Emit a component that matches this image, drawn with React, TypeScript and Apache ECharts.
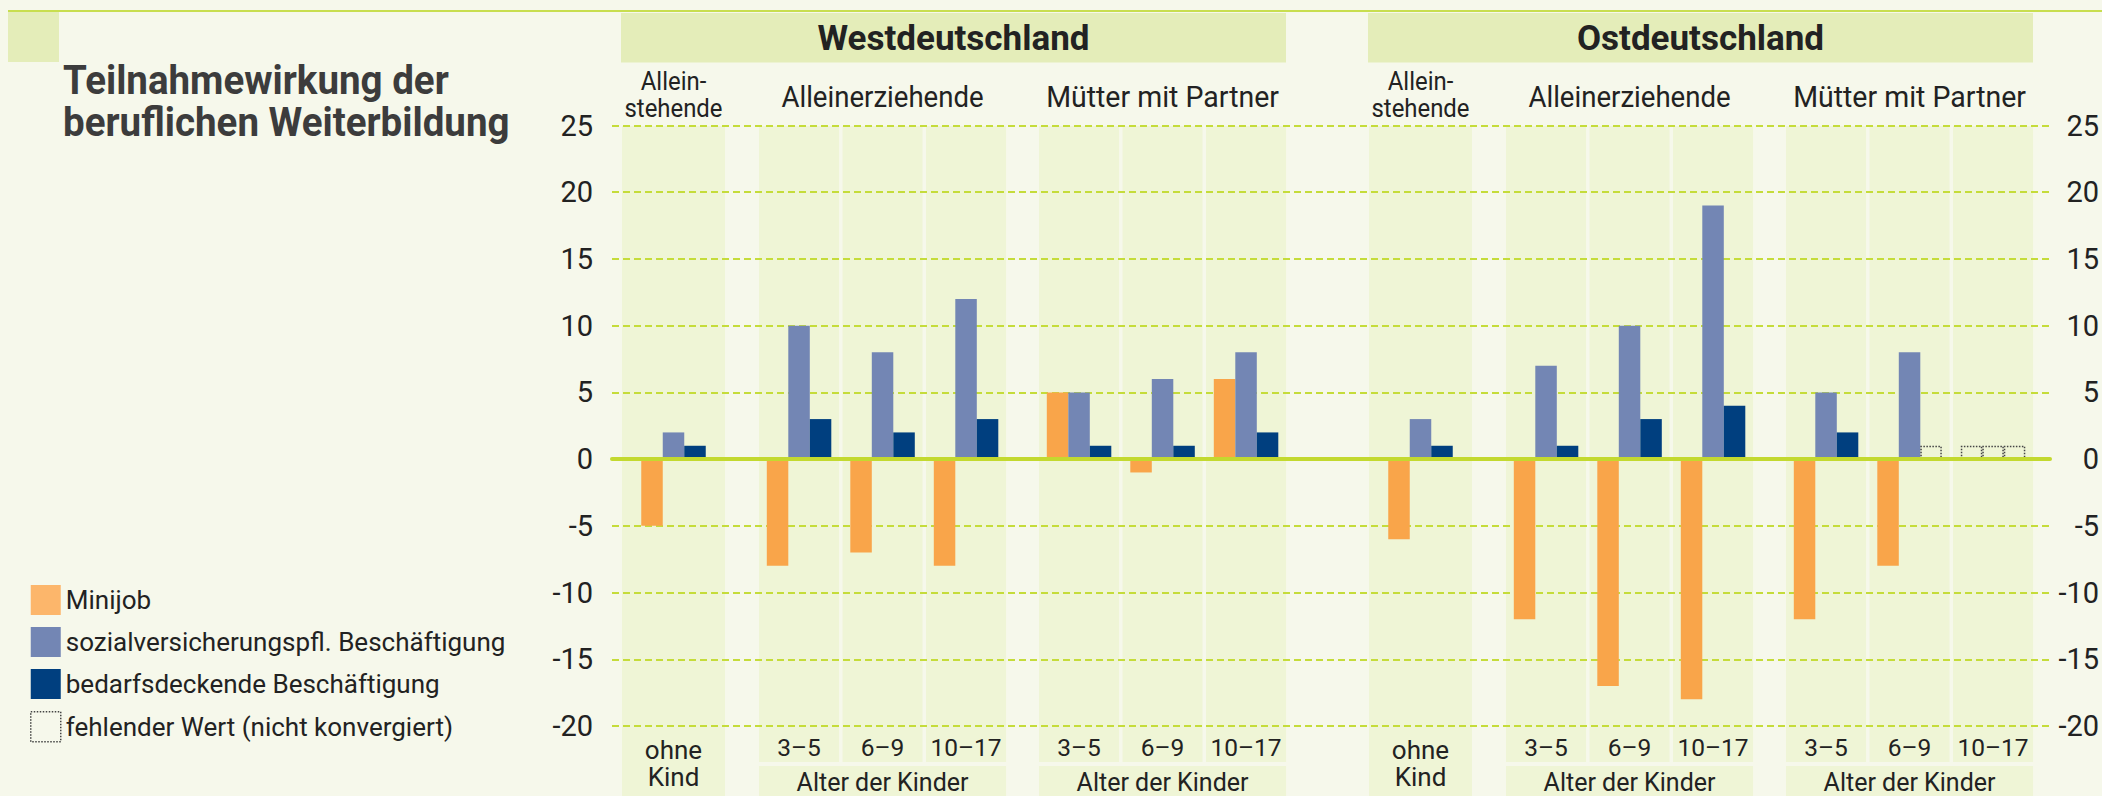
import React, { useEffect, useRef } from 'react';
import * as echarts from 'echarts';

// ---------- data ----------
const regions = ['Westdeutschland', 'Ostdeutschland'];
const householdGroups = ['Allein-\nstehende', 'Alleinerziehende', 'Mütter mit Partner'];
const categories = ['ohne\nKind', '3–5', '6–9', '10–17', '3–5', '6–9', '10–17'];
const ageAxisName = 'Alter der Kinder';
const seriesNames = ['Minijob', 'sozialversicherungspfl. Beschäftigung', 'bedarfsdeckende Beschäftigung'];
const missingName = 'fehlender Wert (nicht konvergiert)';
const yTickLabels = { min: -20, max: 25, interval: 5 };

const westMinijob = [-5, -8, -7, -8, 5, -1, 6];
const westSozial = [2, 10, 8, 12, 5, 6, 8];
const westBedarf = [1, 3, 2, 3, 1, 1, 2];
const ostMinijob = [-6, -12, -17, -18, -12, -8, null];
const ostSozial = [3, 7, 10, 19, 5, 8, null];
const ostBedarf = [1, 1, 3, 4, 2, null, null];
const missingPlaceholder = 1; // height of the dotted "missing" box

const regionData = [
  [westMinijob, westSozial, westBedarf],
  [ostMinijob, ostSozial, ostBedarf],
];
const panelRanges = [[0, 1], [1, 4], [4, 7]];

// ---------- layout / style ----------
const FONT = 'Roboto, "Liberation Sans", sans-serif';
const TEXT = '#222222';
const BG = '#f6f8eb';
const BAND = '#eff5d6';
const HEAD = '#e4edb9';
const COLORS = ['#f9a54a', '#7386b4', '#003f7f'];
const LEGEND_COLORS = ['#fcb66b', '#7386b4', '#003f7f'];
const PLOT_TOP = 125.5;
const PLOT_H = 600.5;
const MAIN_LEFT = 612;
const MAIN_RIGHT = 2050;
const REGION_OFFSET = [0, 747];
const PANEL_LEFT = [620.25, 757.3, 1037.3];
const PANEL_W = [106.5, 250.5, 250.5];
const INSET = 1.75;

const missingStyle = {
  color: 'rgba(0,0,0,0)',
  borderColor: '#444',
  borderWidth: 1.5,
  borderType: 'dotted',
};

function buildOption() {
  const grid: any[] = [
    { left: MAIN_LEFT, top: PLOT_TOP, width: MAIN_RIGHT - MAIN_LEFT, height: PLOT_H, outerBoundsMode: 'none' },
  ];
  const xAxis: any[] = [
    {
      gridIndex: 0,
      type: 'category',
      data: [''],
      z: 10,
      axisLine: { show: true, onZero: true, lineStyle: { color: '#c3d92f', width: 4 } },
      axisTick: { show: false },
      axisLabel: { show: false },
      splitLine: { show: false },
    },
  ];
  const yLabel = { fontSize: 29, color: TEXT, fontFamily: FONT };
  const yAxis: any[] = [
    {
      gridIndex: 0,
      type: 'value',
      position: 'left',
      ...yTickLabels,
      axisLine: { show: false },
      axisTick: { show: false },
      axisLabel: { ...yLabel, margin: 19 },
      splitLine: { show: true, lineStyle: { color: '#c5dc3a', width: 2, type: [7, 4] } },
    },
    {
      gridIndex: 0,
      type: 'value',
      position: 'right',
      ...yTickLabels,
      axisLine: { show: false },
      axisTick: { show: false },
      axisLabel: { ...yLabel, margin: 49, align: 'right' },
      splitLine: { show: false },
    },
  ];
  const series: any[] = [];
  const graphic: any[] = [];

  // decorations
  graphic.push({ type: 'line', z: 1, shape: { x1: 8, y1: 11, x2: 2102, y2: 11 }, style: { stroke: '#c8de4f', lineWidth: 2 } });
  graphic.push({ type: 'rect', z: 1, shape: { x: 8, y: 12, width: 51, height: 50 }, style: { fill: HEAD } });
  graphic.push({
    type: 'text', z: 5, x: 63, y: 101, scaleX: 0.94,
    style: {
      text: 'Teilnahmewirkung der\nberuflichen Weiterbildung',
      fill: '#3c3c3c', fontSize: 41, fontWeight: 'bold', fontFamily: FONT,
      lineHeight: 42, align: 'left', verticalAlign: 'middle',
    },
  });

  regions.forEach((region, r) => {
    const off = REGION_OFFSET[r];
    graphic.push({ type: 'rect', z: 1, shape: { x: 621 + off, y: 13, width: 665, height: 49.5 }, style: { fill: HEAD } });
    graphic.push({
      type: 'text', z: 5, x: 953.5 + off, y: 38,
      style: { text: region, fill: TEXT, fontSize: 35, fontWeight: 'bold', fontFamily: FONT, align: 'center', verticalAlign: 'middle' },
    });

    panelRanges.forEach(([a, b], p) => {
      const left = PANEL_LEFT[p] + off;
      const width = PANEL_W[p];
      const n = b - a;
      const cw = width / n;
      // group label
      graphic.push({
        type: 'text', z: 5, x: left + width / 2, y: p === 0 ? 95 : 96.5, scaleX: p === 2 ? 0.95 : 0.92,
        style: {
          text: householdGroups[p], fill: TEXT, fontFamily: FONT,
          fontSize: p === 0 ? 26 : 30, lineHeight: 27, align: 'center', verticalAlign: 'middle',
        },
      });
      // background bands
      for (let i = 0; i < n; i++) {
        graphic.push({
          type: 'rect', z: -1,
          shape: { x: left + i * cw + INSET, y: 126, width: cw - 2 * INSET, height: (p === 0 ? 796 : 762) - 126 },
          style: { fill: BAND },
        });
      }
      if (p > 0) {
        graphic.push({
          type: 'rect', z: -1,
          shape: { x: left + INSET, y: 766, width: width - 2 * INSET, height: 30 },
          style: { fill: BAND },
        });
      }

      const gi = grid.length;
      grid.push({ left, top: PLOT_TOP, width, height: PLOT_H, outerBoundsMode: 'none' });
      xAxis.push({
        gridIndex: gi,
        type: 'category',
        data: categories.slice(a, b),
        axisLine: { show: false, onZero: false },
        axisTick: { show: false },
        splitLine: { show: false },
        axisLabel: {
          interval: 0, margin: p === 0 ? 37 : 21, verticalAlign: 'middle', lineHeight: 27,
          fontSize: p === 0 ? 26 : 24.5, color: TEXT, fontFamily: FONT,
        },
        name: p === 0 ? '' : ageAxisName,
        nameLocation: 'middle',
        nameGap: 56,
        nameTextStyle: { fontSize: 25, color: TEXT, fontFamily: FONT, verticalAlign: 'middle' },
      });
      const yi = yAxis.length;
      yAxis.push({ gridIndex: gi, type: 'value', ...yTickLabels, show: false, splitLine: { show: false } });

      regionData[r].forEach((values, k) => {
        series.push({
          type: 'bar',
          name: seriesNames[k],
          xAxisIndex: gi,
          yAxisIndex: yi,
          barWidth: 21.5,
          barGap: '0%',
          z: 2,
          itemStyle: { color: COLORS[k] },
          emphasis: { disabled: true },
          data: values.slice(a, b).map((v) =>
            v == null ? { value: missingPlaceholder, itemStyle: missingStyle } : v
          ),
        });
      });
    });
  });

  // legend-only series for the missing-value marker
  series.push({
    type: 'bar', name: missingName, xAxisIndex: 0, yAxisIndex: 0, data: [],
    itemStyle: missingStyle,
  });

  return {
    animation: false,
    backgroundColor: BG,
    textStyle: { fontFamily: FONT },
    grid,
    xAxis,
    yAxis,
    series,
    graphic,
    legend: {
      orient: 'vertical',
      left: 25,
      top: 580,
      itemWidth: 30,
      itemHeight: 30,
      itemGap: 12,
      icon: 'rect',
      selectedMode: false,
      textStyle: { fontSize: 26, lineHeight: 30, color: TEXT, fontFamily: FONT },
      data: [
        { name: seriesNames[0], itemStyle: { color: LEGEND_COLORS[0] } },
        { name: seriesNames[1], itemStyle: { color: LEGEND_COLORS[1] } },
        { name: seriesNames[2], itemStyle: { color: LEGEND_COLORS[2] } },
        { name: missingName, itemStyle: { color: 'rgba(0,0,0,0)', borderColor: '#444', borderWidth: 1.5, borderType: 'dotted' } },
      ],
    },
  };
}

export default function App() {
  const ref = useRef<HTMLDivElement>(null);
  useEffect(() => {
    if (!ref.current) return;
    const chart = echarts.init(ref.current, undefined, { renderer: 'svg' });
    chart.setOption(buildOption() as any);
    return () => chart.dispose();
  }, []);
  return (
    <div
      ref={ref}
      style={{ position: 'fixed', left: 0, top: 0, width: 2102, height: 796 }}
    />
  );
}
